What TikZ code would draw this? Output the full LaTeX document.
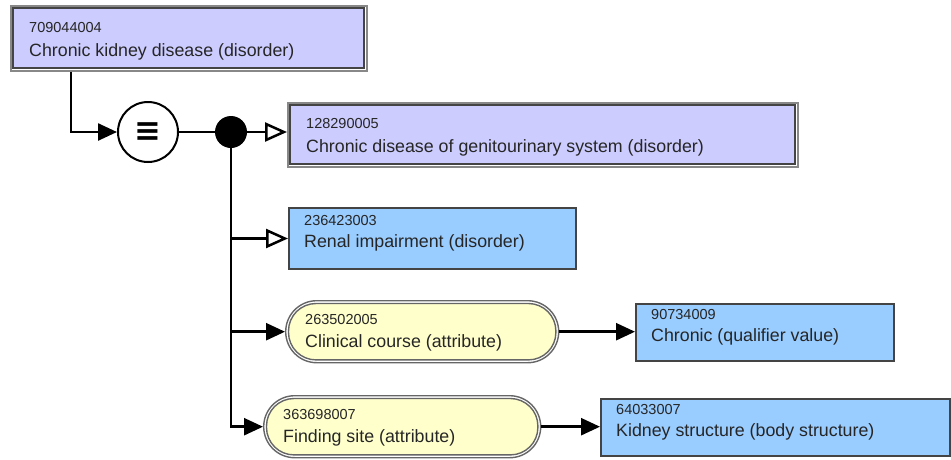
\documentclass[tikz,border=0pt]{standalone}
\usepackage{fontspec}
\setmainfont{Liberation Sans}
\newfontfamily\symfont{DejaVu Sans}
\usetikzlibrary{arrows.meta,calc}
\definecolor{primfill}{HTML}{CCCCFF}
\definecolor{deffill}{HTML}{99CCFF}
\definecolor{attrfill}{HTML}{FFFFCC}
\definecolor{outgray}{HTML}{888888}
\definecolor{indark}{HTML}{444444}
\definecolor{pillline}{HTML}{666666}
\tikzset{
  numf/.style={font=\fontsize{14.5}{16}\selectfont, inner sep=0pt, text=black!85},
  lblf/.style={font=\fontsize{17.8}{20}\selectfont, inner sep=0pt, text=black!85},
  outerbox/.style={draw=outgray, line width=1.5pt, fill=white, inner sep=0pt, anchor=north west},
  defbox/.style={draw=indark, line width=2pt, fill=deffill, inner sep=0pt, anchor=north west},
  outerpill/.style={rectangle, draw=pillline, line width=1.4pt, fill=white, inner sep=0pt, anchor=north west},
  conn/.style={line width=2.5pt, draw=black},
  solidtip/.style={-{Triangle[length=19pt,width=17pt]}},
  opentip/.style={-{Triangle[open,length=22pt,width=19pt,fill=white]}},
}
% primitive concept box: name, x1, y1, x2, y2, id, label
\newcommand\primbox[7]{%
  \node[outerbox, minimum width={(#4-#2)*1pt}, minimum height={(#5-#3)*1pt}] (#1) at (#2,#3) {};
  \draw[draw=indark, line width=1.8pt, fill=primfill] ([shift={(3.2,3.2)}]#1.north west) rectangle ([shift={(-3.2,-3.2)}]#1.south east);
  \node[numf, anchor=base west] (#1-id) at ($(#1.west)+(19,-6)$) {#6};
  \node[lblf, anchor=base west] (#1-t) at ($(#1.west)+(19,18)$) {#7};
}
\newcommand\defbox[7]{%
  \node[defbox, minimum width={(#4-#2)*1pt}, minimum height={(#5-#3)*1pt}] (#1) at (#2,#3) {};
  \node[numf, anchor=base west] (#1-id) at ($(#1.west)+(16,-13)$) {#6};
  \node[lblf, anchor=base west] (#1-t) at ($(#1.west)+(16,9)$) {#7};
}
\newcommand\attrpill[7]{%
  \node[outerpill, rounded corners={((#5-#3)/2)*1pt}, minimum width={(#4-#2)*1pt}, minimum height={(#5-#3)*1pt}] (#1) at (#2,#3) {};
  \draw[draw=pillline, line width=1.4pt, fill=attrfill, rounded corners={((#5-#3)/2-3.5)*1pt}] ([shift={(3.5,3.5)}]#1.north west) rectangle ([shift={(-3.5,-3.5)}]#1.south east);
  \node[numf, anchor=base west] (#1-id) at ($(#1.west)+(20,-7)$) {#6};
  \node[lblf, anchor=base west] (#1-t) at ($(#1.west)+(20,16)$) {#7};
}
\begin{document}
\begin{tikzpicture}[x=1pt,y=-1pt]
\useasboundingbox (0,0) rectangle (951,459);
\fill[white] (0,0) rectangle (951,459);
\primbox{b1}{10}{5}{366}{70}{709044004}{Chronic kidney disease (disorder)}
\primbox{b2}{287}{102}{797}{166}{128290005}{Chronic disease of genitourinary system (disorder)}
\defbox{b3}{288}{207}{575}{268}{236423003}{Renal impairment (disorder)}
\attrpill{cc}{285}{300}{558}{362}{263502005}{Clinical course (attribute)}
\defbox{ch}{635}{303}{893}{360}{90734009}{Chronic (qualifier value)}
\attrpill{fs}{263}{395}{540}{457}{363698007}{Finding site (attribute)}
\defbox{ks}{600}{398}{949}{455}{64033007}{Kidney structure (body structure)}
\node[circle, draw=black, line width=2pt, fill=white, minimum size=60pt, inner sep=0pt,
      font=\symfont\bfseries\fontsize{32}{32}\selectfont] (eq) at (148,132) {≡};
\node[circle, fill=black, minimum size=32pt, inner sep=0pt] (dot) at (231,132) {};
\coordinate (b1drop) at ($(b1.south west)+(61,0)$);
\draw[conn, solidtip] (b1drop) |- (eq.west);
\draw[conn] (eq) -- (dot);
\draw[conn, opentip] (dot) -- (dot -| b2.west);
\draw[conn, opentip] (dot) |- (b3.west);
\draw[conn, solidtip] (dot) |- (cc.west);
\draw[conn, solidtip] (dot) |- (fs.west);
\draw[conn, solidtip] (cc.east) -- (cc.east -| ch.west);
\draw[conn, solidtip] (fs.east) -- (fs.east -| ks.west);
\end{tikzpicture}
\end{document}
